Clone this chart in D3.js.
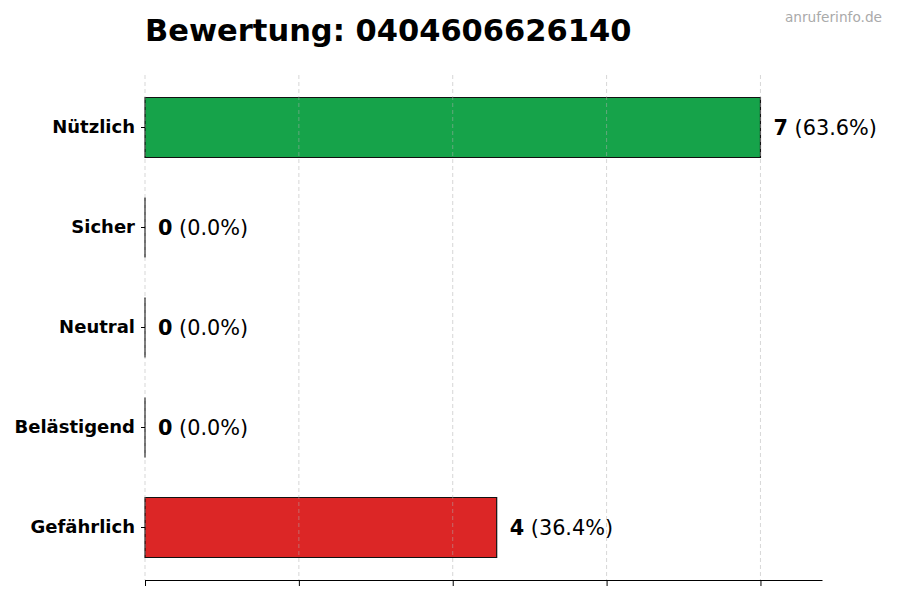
<!DOCTYPE html>
<html>
<head>
<meta charset="utf-8">
<script src="https://cdn.jsdelivr.net/npm/d3@7"></script>
<style>
  body { margin: 0; background: #fff; }
  svg { font-family: "DejaVu Sans", sans-serif; }
</style>
</head>
<body>
<svg id="chart"></svg>
<script>
const categories = ["Nützlich", "Sicher", "Neutral", "Belästigend", "Gefährlich"];
const counts = [7, 0, 0, 0, 4];
const percents = ["63.6%", "0.0%", "0.0%", "0.0%", "36.4%"];
const barColors = ["#16a34a", "#16a34a", "#9ca3af", "#f97316", "#dc2626"];
const xTicks = [0, 1.75, 3.5, 5.25, 7];
const titleText = "Bewertung: 0404606626140";
const watermark = "anruferinfo.de";

function renderChart() {
  const width = 900, height = 600;
  const svg = d3.select("#chart")
    .attr("width", width)
    .attr("height", height);

  const margin = { top: 75, right: 78, bottom: 20, left: 145 };

  const xScale = d3.scaleLinear()
    .domain([0, 7.7])
    .range([margin.left, width - margin.right]);

  const yScale = d3.scaleBand()
    .domain(categories)
    .range([margin.top, height - margin.bottom])
    .paddingInner(0.4)
    .paddingOuter(0.225);

  // title + watermark
  svg.append("text")
    .attr("x", margin.left)
    .attr("y", 41)
    .attr("font-size", 30.5)
    .attr("font-weight", 700)
    .text(titleText);

  svg.append("text")
    .attr("x", 882)
    .attr("y", 22)
    .attr("text-anchor", "end")
    .attr("font-size", 13.7)
    .attr("fill", "#aaaaaa")
    .text(watermark);

  // bars as paths so zero-width bars still show their edge
  svg.append("g")
    .selectAll("path")
    .data(categories)
    .join("path")
    .attr("d", (d, i) => {
      const x0 = xScale(0), w = xScale(counts[i]) - xScale(0);
      const y0 = yScale(d), h = yScale.bandwidth();
      return `M${x0},${y0}h${w}v${h}h${-w}Z`;
    })
    .attr("fill", (d, i) => barColors[i])
    .attr("stroke", "#111")
    .attr("stroke-width", 1.2);

  // grid on top, faint
  svg.append("g")
    .selectAll("line")
    .data(xTicks)
    .join("line")
    .attr("x1", d => xScale(d))
    .attr("x2", d => xScale(d))
    .attr("y1", margin.top)
    .attr("y2", height - margin.bottom)
    .attr("stroke", "#b0b0b0")
    .attr("stroke-opacity", 0.5)
    .attr("stroke-dasharray", "4,3");

  // x axis (no labels)
  const xAxis = svg.append("g")
    .attr("transform", `translate(0,${height - margin.bottom})`)
    .call(d3.axisBottom(xScale).tickValues(xTicks).tickFormat("").tickSize(6).tickSizeOuter(0));
  xAxis.select(".domain").attr("stroke", "#000").attr("stroke-width", 1.2);
  xAxis.selectAll(".tick line").attr("stroke", "#000");

  // y axis: ticks + labels, no spine
  const yAxis = svg.append("g")
    .attr("transform", `translate(${margin.left},0)`)
    .call(d3.axisLeft(yScale).tickSize(4).tickPadding(6));
  yAxis.select(".domain").remove();
  yAxis.selectAll(".tick line").attr("stroke", "#000");
  yAxis.selectAll(".tick text")
    .attr("font-size", 18)
    .attr("font-weight", 700)
    .attr("fill", "#000")
    .attr("font-family", "DejaVu Sans, sans-serif");

  // value labels
  const labels = svg.append("g")
    .selectAll("text")
    .data(categories)
    .join("text")
    .attr("x", (d, i) => xScale(counts[i]) + 13)
    .attr("y", d => yScale(d) + yScale.bandwidth() / 2)
    .attr("dy", "0.35em")
    .attr("font-size", 20.8);

  labels.append("tspan")
    .attr("font-weight", 700)
    .text((d, i) => counts[i]);
  labels.append("tspan")
    .text((d, i) => ` (${percents[i]})`);
}

renderChart();
</script>
</body>
</html>
